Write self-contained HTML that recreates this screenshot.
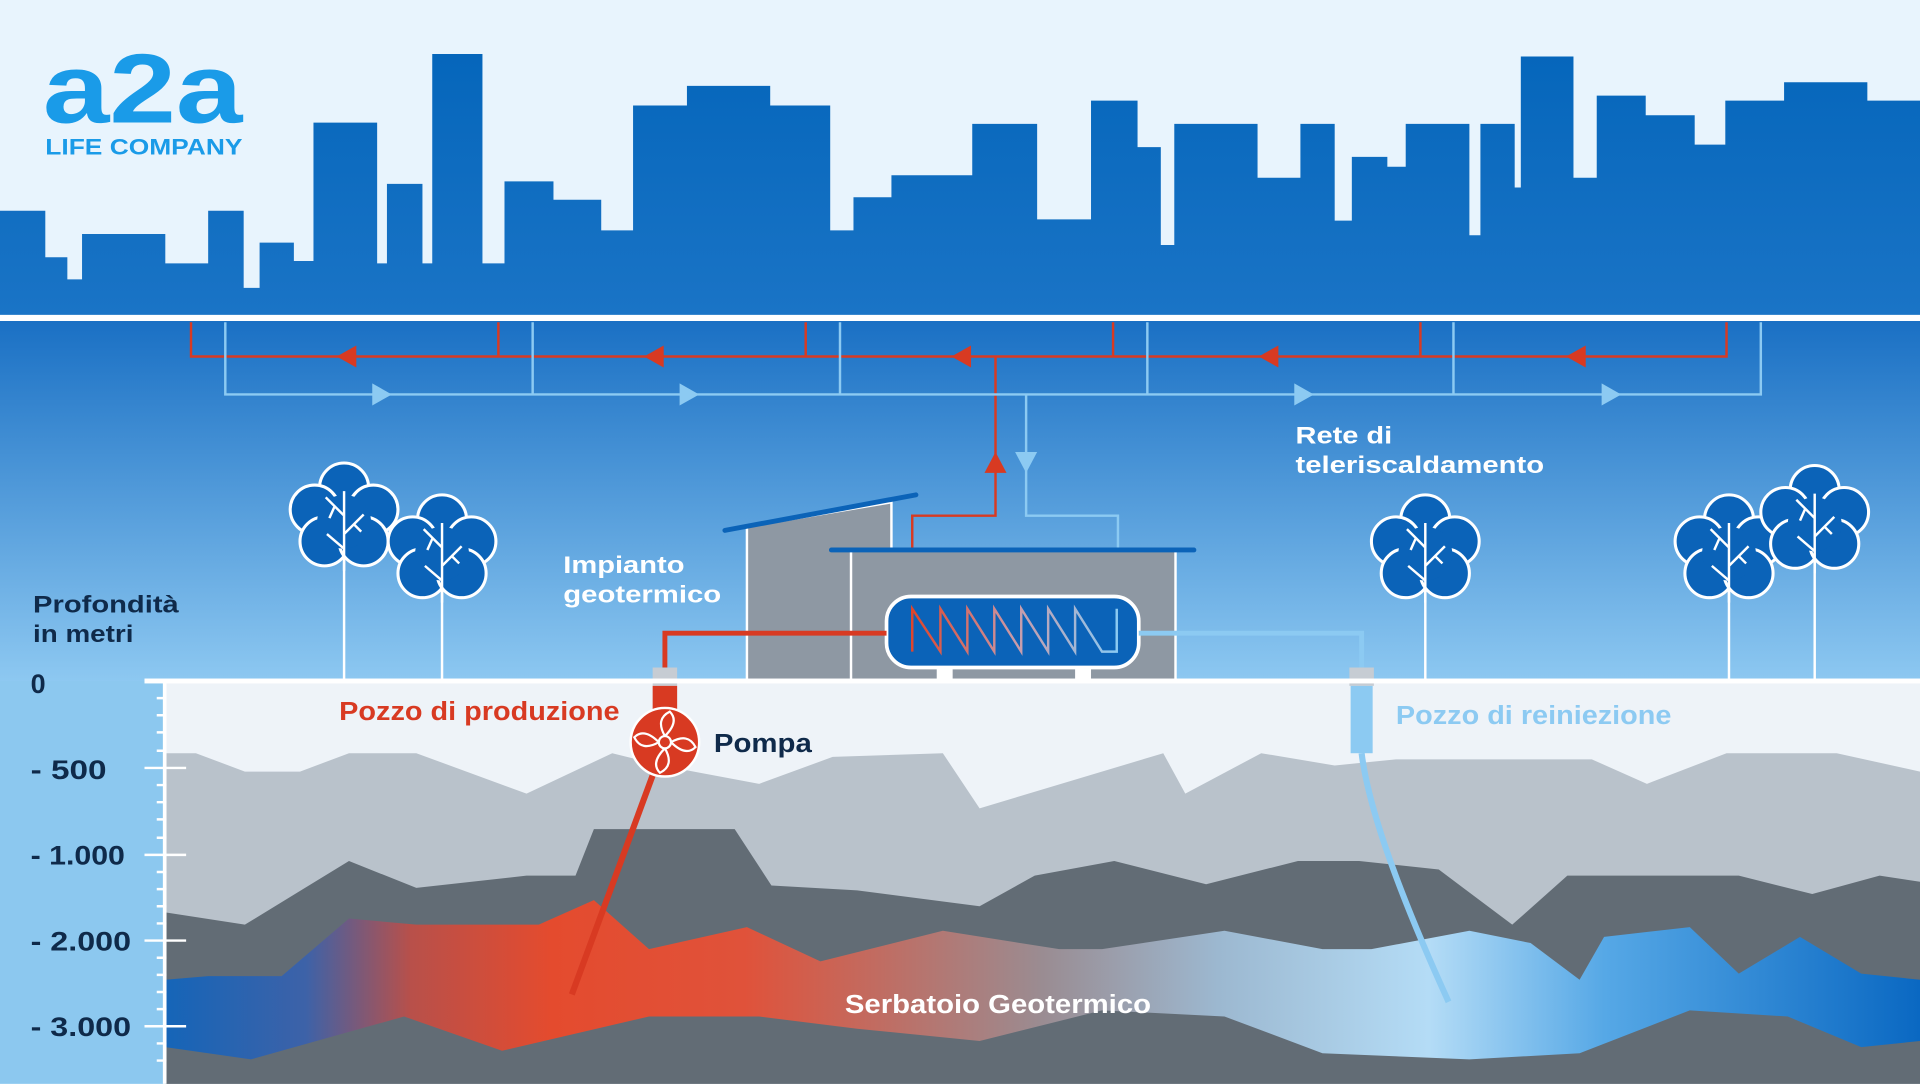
<!DOCTYPE html>
<html><head><meta charset="utf-8"><style>
html,body{margin:0;padding:0;width:1920px;height:1084px;overflow:hidden;background:#e8f4fd}
svg{display:block}
text{font-family:"Liberation Sans",sans-serif}
</style></head><body>
<svg width="1920" height="1084" viewBox="0 0 1568 885" xmlns="http://www.w3.org/2000/svg">
<defs>
<linearGradient id="ug" x1="0" y1="0" x2="0" y2="1">
<stop offset="0" stop-color="#1a70c4"/><stop offset="1" stop-color="#8dc8f1"/></linearGradient>
<linearGradient id="sky" x1="0" y1="0" x2="0" y2="1">
<stop offset="0" stop-color="#0566bb"/><stop offset="1" stop-color="#1a74c6"/></linearGradient>
<linearGradient id="res" x1="135" y1="0" x2="1568" y2="0" gradientUnits="userSpaceOnUse">
<stop offset="0" stop-color="#1565b8"/><stop offset="0.08" stop-color="#3d62a8"/><stop offset="0.14" stop-color="#b8504a"/>
<stop offset="0.22" stop-color="#e44b2e"/><stop offset="0.33" stop-color="#e0523a"/><stop offset="0.5" stop-color="#9a8c92"/>
<stop offset="0.6" stop-color="#9cb8d0"/><stop offset="0.72" stop-color="#b4dcf6"/><stop offset="0.82" stop-color="#56a8e6"/>
<stop offset="1" stop-color="#0a68c2"/></linearGradient>
<linearGradient id="zz" x1="0" y1="0" x2="1" y2="0">
<stop offset="0" stop-color="#e0452b"/><stop offset="0.5" stop-color="#c99aa8"/><stop offset="1" stop-color="#8ccaf2"/></linearGradient>
<g id="tree">
<line x1="0" y1="0" x2="0" y2="130" stroke="#fff" stroke-width="2"/>
<g fill="#0b63b8" stroke="#fff" stroke-width="2.5">
<circle cx="0" cy="-28" r="20"/><circle cx="-24" cy="-10" r="20"/><circle cx="24" cy="-10" r="20"/>
<circle cx="-16" cy="16" r="20"/><circle cx="16" cy="16" r="20"/><circle cx="0" cy="0" r="22" stroke="none"/></g>
<g stroke="#fff" stroke-width="2" fill="none"><path d="M0,-25 V40 M0,-5 L-15,-20 M0,10 L16,-6 M0,22 L-14,10 M-8,-12 L-12,-3 M8,2 L14,8"/></g>
</g>
</defs>
<rect width="1568" height="885" fill="#e8f4fd"/>
<rect y="262" width="1568" height="294" fill="url(#ug)"/>
<path fill="url(#sky)" d="M0,172 H37 V210 H55 V228 H67 V191 H135 V215 H170 V172 H199 V235 H212 V198 H240 V213 H256 V100 H308 V215 H316 V150 H345 V215 H353 V44 H394 V215 H412 V148 H452 V163 H491 V188 H517 V86 H561 V70 H629 V86 H678 V188 H697 V161 H728 V143 H794 V101 H847 V179 H891 V82 H929 V120 H948 V200 H959 V101 H1027 V145 H1062 V101 H1090 V180 H1104 V128 H1133 V136 H1148 V101 H1200 V192 H1209 V101 H1237 V153 H1242 V46 H1285 V145 H1304 V78 H1344 V94 H1384 V118 H1409 V82 H1457 V67 H1525 V82 H1568 V258 H0 Z"/>
<rect y="257" width="1568" height="5" fill="#fff"/>
<text x="35" y="100" font-size="80" fill="#1a9be8" font-weight="bold" textLength="163" lengthAdjust="spacingAndGlyphs">a2a</text>
<text x="37" y="126" font-size="18" fill="#1a9be8" font-weight="bold" textLength="161" lengthAdjust="spacingAndGlyphs">LIFE COMPANY</text>
<!-- network -->
<g stroke="#d83a22" stroke-width="2" fill="none">
<path d="M156,263 V291 H1410 V263 M407,263 V291 M658,263 V291 M909,263 V291 M1160,263 V291 M813,291 V421 H745 V470"/></g>
<g stroke="#8ccaf2" stroke-width="2" fill="none">
<path d="M184,263 V322 H1438 V263 M435,263 V322 M686,263 V322 M937,263 V322 M1187,263 V322 M838,322 V421 H913 V470"/></g>
<g fill="#d83a22"><path d="M275,291 l16,-9 v18z"/><path d="M526,291 l16,-9 v18z"/><path d="M777,291 l16,-9 v18z"/><path d="M1028,291 l16,-9 v18z"/><path d="M1279,291 l16,-9 v18z"/>
<path d="M813,369 l-9,17 h18z"/><path d="M745,460 l-9,17 h18z"/></g>
<g fill="#8ccaf2"><path d="M320,322 l-16,-9 v18z"/><path d="M571,322 l-16,-9 v18z"/><path d="M1073,322 l-16,-9 v18z"/><path d="M1324,322 l-16,-9 v18z"/>
<path d="M838,386 l-9,-17 h18z"/><path d="M913,477 l-9,-17 h18z"/></g>
<text x="1058" y="362" font-size="20" fill="#fff" font-weight="bold" textLength="79" lengthAdjust="spacingAndGlyphs">Rete di</text>
<text x="1058" y="386" font-size="20" fill="#fff" font-weight="bold" textLength="203" lengthAdjust="spacingAndGlyphs">teleriscaldamento</text>
<!-- trees -->
<use href="#tree" x="281" y="426"/><use href="#tree" x="361" y="452"/><use href="#tree" x="1164" y="452"/><use href="#tree" x="1412" y="452"/><use href="#tree" x="1482" y="428"/>
<!-- building -->
<path d="M610,430 L728,410 V556 H610Z" fill="#8e98a3" stroke="#fff" stroke-width="2"/>
<rect x="695" y="449" width="265" height="107" fill="#8e98a3" stroke="#fff" stroke-width="2"/>
<line x1="592" y1="433" x2="748" y2="404" stroke="#0b63b8" stroke-width="4" stroke-linecap="round"/>
<line x1="679" y1="449" x2="975" y2="449" stroke="#0b63b8" stroke-width="4" stroke-linecap="round"/>
<rect x="765" y="544" width="13" height="12" fill="#fff"/><rect x="878" y="544" width="13" height="12" fill="#fff"/>
<rect x="724" y="487" width="206" height="58" rx="20" fill="#0b63b8" stroke="#fff" stroke-width="3"/>
<path d="M745,532 V497 L768,532 V497 L790,532 V497 L812,532 V497 L834,532 V497 L856,532 V497 L878,532 V497 L900,532 H912 V497" fill="none" stroke="url(#zz)" stroke-width="2"/>
<text x="460" y="468" font-size="20" fill="#fff" font-weight="bold" textLength="99" lengthAdjust="spacingAndGlyphs">Impianto</text>
<text x="460" y="492" font-size="20" fill="#fff" font-weight="bold" textLength="129" lengthAdjust="spacingAndGlyphs">geotermico</text>
<!-- ground -->
<rect x="0" y="556" width="135" height="329" fill="#8cc8ef"/>
<rect x="135" y="556" width="1433" height="329" fill="#eef3f8"/>
<polygon fill="#b9c2cb" points="135,615 160,615 200,630 245,630 285,615 340,615 430,648 500,615 540,625 620,640 680,618 770,615 800,660 950,615 968,648 1030,615 1090,625 1140,620 1300,620 1345,640 1410,615 1500,615 1568,630 1568,885 135,885"/>
<polygon fill="#626c75" points="135,745 200,755 285,703 340,725 430,715 470,715 485,677 600,677 630,723 700,727 800,740 845,715 910,703 985,722 1060,703 1110,703 1175,710 1235,755 1280,715 1420,715 1480,730 1535,715 1568,720 1568,885 135,885"/>
<polygon fill="url(#res)" points="135,800 170,797 230,797 285,750 340,755 440,755 485,735 530,775 610,757 670,785 770,760 865,775 900,775 1000,760 1080,775 1120,775 1200,760 1250,770 1290,800 1310,765 1380,757 1420,795 1470,765 1520,795 1568,800 1568,850 1520,855 1460,830 1380,825 1290,860 1200,865 1080,860 1000,830 900,825 800,850 700,840 620,830 530,830 410,858 330,830 205,865 135,855"/>
<text x="690" y="827" font-size="21" fill="#fff" font-weight="bold" textLength="250" lengthAdjust="spacingAndGlyphs">Serbatoio Geotermico</text>
<!-- pipes -->
<path d="M724,517 H543 V545" fill="none" stroke="#d83a22" stroke-width="4"/>
<path d="M930,517 H1112 V545" fill="none" stroke="#8ccaf2" stroke-width="4"/>
<line x1="543" y1="606" x2="467" y2="812" stroke="#d83a22" stroke-width="5"/>
<path d="M1112,615 Q1120,680 1183,818" fill="none" stroke="#8ccaf2" stroke-width="5"/>
<rect x="533" y="545" width="20" height="15" fill="#c6ccd3"/><rect x="533" y="560" width="20" height="25" fill="#d83a22"/>
<rect x="1102" y="545" width="20" height="15" fill="#c6ccd3"/><rect x="1103" y="560" width="18" height="55" fill="#8ccaf2"/>
<circle cx="543" cy="606" r="28" fill="#d83a22" stroke="#fff" stroke-width="2"/>
<g fill="none" stroke="#fff" stroke-width="1.8"><circle cx="543" cy="606" r="5"/>
<path d="M543,601 q-8,-14 4,-20 q8,8 -4,20 M548,606 q14,-8 20,4 q-8,8 -20,-4 M543,611 q8,14 -4,20 q-8,-8 4,-20 M538,606 q-14,8 -20,-4 q8,-8 20,4"/></g>
<text x="277" y="588" font-size="21" fill="#d83a22" font-weight="bold" textLength="229" lengthAdjust="spacingAndGlyphs">Pozzo di produzione</text>
<text x="583" y="614" font-size="21" fill="#0f2a4a" font-weight="bold" textLength="80" lengthAdjust="spacingAndGlyphs">Pompa</text>
<text x="1140" y="591" font-size="21" fill="#8ccaf2" font-weight="bold" textLength="225" lengthAdjust="spacingAndGlyphs">Pozzo di reiniezione</text>
<!-- axis -->
<rect x="118" y="554" width="1450" height="4" fill="#fff"/>
<rect x="133" y="556" width="3" height="329" fill="#fff"/>
<g stroke="#fff" stroke-width="2">
<path d="M118,556 H136 M118,627 H152 M118,698 H152 M118,768 H152 M118,838 H152"/>
<path d="M128,570 H136 M128,584 H136 M128,598 H136 M128,613 H136 M128,641 H136 M128,655 H136 M128,669 H136 M128,684 H136 M128,712 H136 M128,726 H136 M128,740 H136 M128,754 H136 M128,782 H136 M128,796 H136 M128,810 H136 M128,824 H136 M128,852 H136 M128,866 H136"/></g>
<text x="27" y="500" font-size="20" fill="#0f2a4a" font-weight="bold" textLength="119" lengthAdjust="spacingAndGlyphs">Profondità</text>
<text x="27" y="524" font-size="20" fill="#0f2a4a" font-weight="bold" textLength="82" lengthAdjust="spacingAndGlyphs">in metri</text>
<g font-size="22" fill="#0f2a4a" font-weight="bold">
<text x="25" y="566">0</text><text x="25" y="636" textLength="62" lengthAdjust="spacingAndGlyphs">- 500</text><text x="25" y="706" textLength="77" lengthAdjust="spacingAndGlyphs">- 1.000</text><text x="25" y="776" textLength="82" lengthAdjust="spacingAndGlyphs">- 2.000</text><text x="25" y="846" textLength="82" lengthAdjust="spacingAndGlyphs">- 3.000</text></g>
</svg>
</body></html>
